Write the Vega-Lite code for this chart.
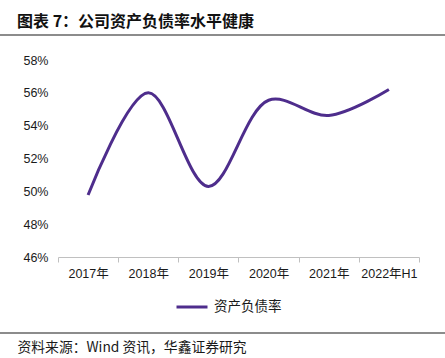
{
  "$schema": "https://vega.github.io/schema/vega-lite/v6.json",
  "width": 445,
  "height": 298,
  "autosize": {"type": "none"},
  "padding": {"top": 35, "left": 0, "right": 0, "bottom": 25},
  "background": "white",
  "config": {"view": {"stroke": null}},
  "title": {
    "text": "图表 7：公司资产负债率水平健康",
    "anchor": "start",
    "frame": "group",
    "dx": 17,
    "offset": 4,
    "font": "Noto Sans CJK SC",
    "fontWeight": "bold",
    "fontSize": 16,
    "color": "#111111"
  },
  "layer": [
    {
      "data": {"values": [{"edge": "top"}]},
      "mark": {"type": "rule", "color": "#8c8c8c", "strokeWidth": 2},
      "encoding": {"y": {"datum": 0.59523, "type": "quantitative"}}
    },
    {
      "data": {"values": [{"edge": "bottom"}]},
      "mark": {"type": "rule", "color": "#8c8c8c", "strokeWidth": 2},
      "encoding": {"y": {"datum": 0.41371, "type": "quantitative"}}
    },
    {
      "data": {
        "values": [
          {"year": "2017年", "ratio": 0.4978, "series": "资产负债率"},
          {"year": "2018年", "ratio": 0.5600, "series": "资产负债率"},
          {"year": "2019年", "ratio": 0.5030, "series": "资产负债率"},
          {"year": "2020年", "ratio": 0.5555, "series": "资产负债率"},
          {"year": "2021年", "ratio": 0.5462, "series": "资产负债率"},
          {"year": "2022年H1", "ratio": 0.5620, "series": "资产负债率"}
        ]
      },
      "mark": {"type": "line", "interpolate": "catmull-rom", "strokeWidth": 3},
      "encoding": {
        "x": {
          "field": "year",
          "type": "ordinal",
          "sort": null,
          "bandPosition": 0.5,
          "scale": {"type": "band", "range": [58, 419], "paddingInner": 0, "paddingOuter": 0},
          "axis": {
            "offset": -76,
            "labelAngle": 0,
            "domainColor": "#c0c0c0",
            "domainWidth": 1,
            "tickColor": "#c0c0c0",
            "tickSize": 5,
            "tickBand": "extent",
            "labelPadding": 5,
            "labelFont": "Liberation Sans, Noto Sans CJK SC",
            "labelFontSize": 12.5,
            "labelColor": "#1a1a1a",
            "title": "资料来源：Wind 资讯，华鑫证券研究",
            "titleFont": "Noto Sans CJK SC",
            "titleFontSize": 13.8,
            "titleFontWeight": "normal",
            "titleColor": "#1a1a1a",
            "titleAnchor": "start",
            "titleAlign": "left",
            "titleBaseline": "middle",
            "titleX": 17,
            "titleY": 90
          }
        },
        "y": {
          "field": "ratio",
          "type": "quantitative",
          "scale": {"domain": [0.41371, 0.59523], "nice": false, "zero": false},
          "axis": {
            "offset": -58,
            "values": [0.46, 0.48, 0.5, 0.52, 0.54, 0.56, 0.58],
            "format": ".0%",
            "domain": false,
            "ticks": false,
            "grid": false,
            "labelPadding": 10,
            "labelFont": "Liberation Sans",
            "labelFontSize": 12.5,
            "labelColor": "#1a1a1a",
            "title": null
          }
        },
        "color": {
          "field": "series",
          "type": "nominal",
          "scale": {"range": ["#4e2d8c"]},
          "legend": {
            "title": null,
            "orient": "none",
            "legendX": 175,
            "legendY": 255,
            "symbolType": "stroke",
            "symbolSize": 961,
            "symbolStrokeWidth": 3,
            "labelFont": "Noto Sans CJK SC",
            "labelFontSize": 13.5,
            "labelColor": "#1a1a1a",
            "labelOffset": 5
          }
        }
      }
    }
  ]
}
